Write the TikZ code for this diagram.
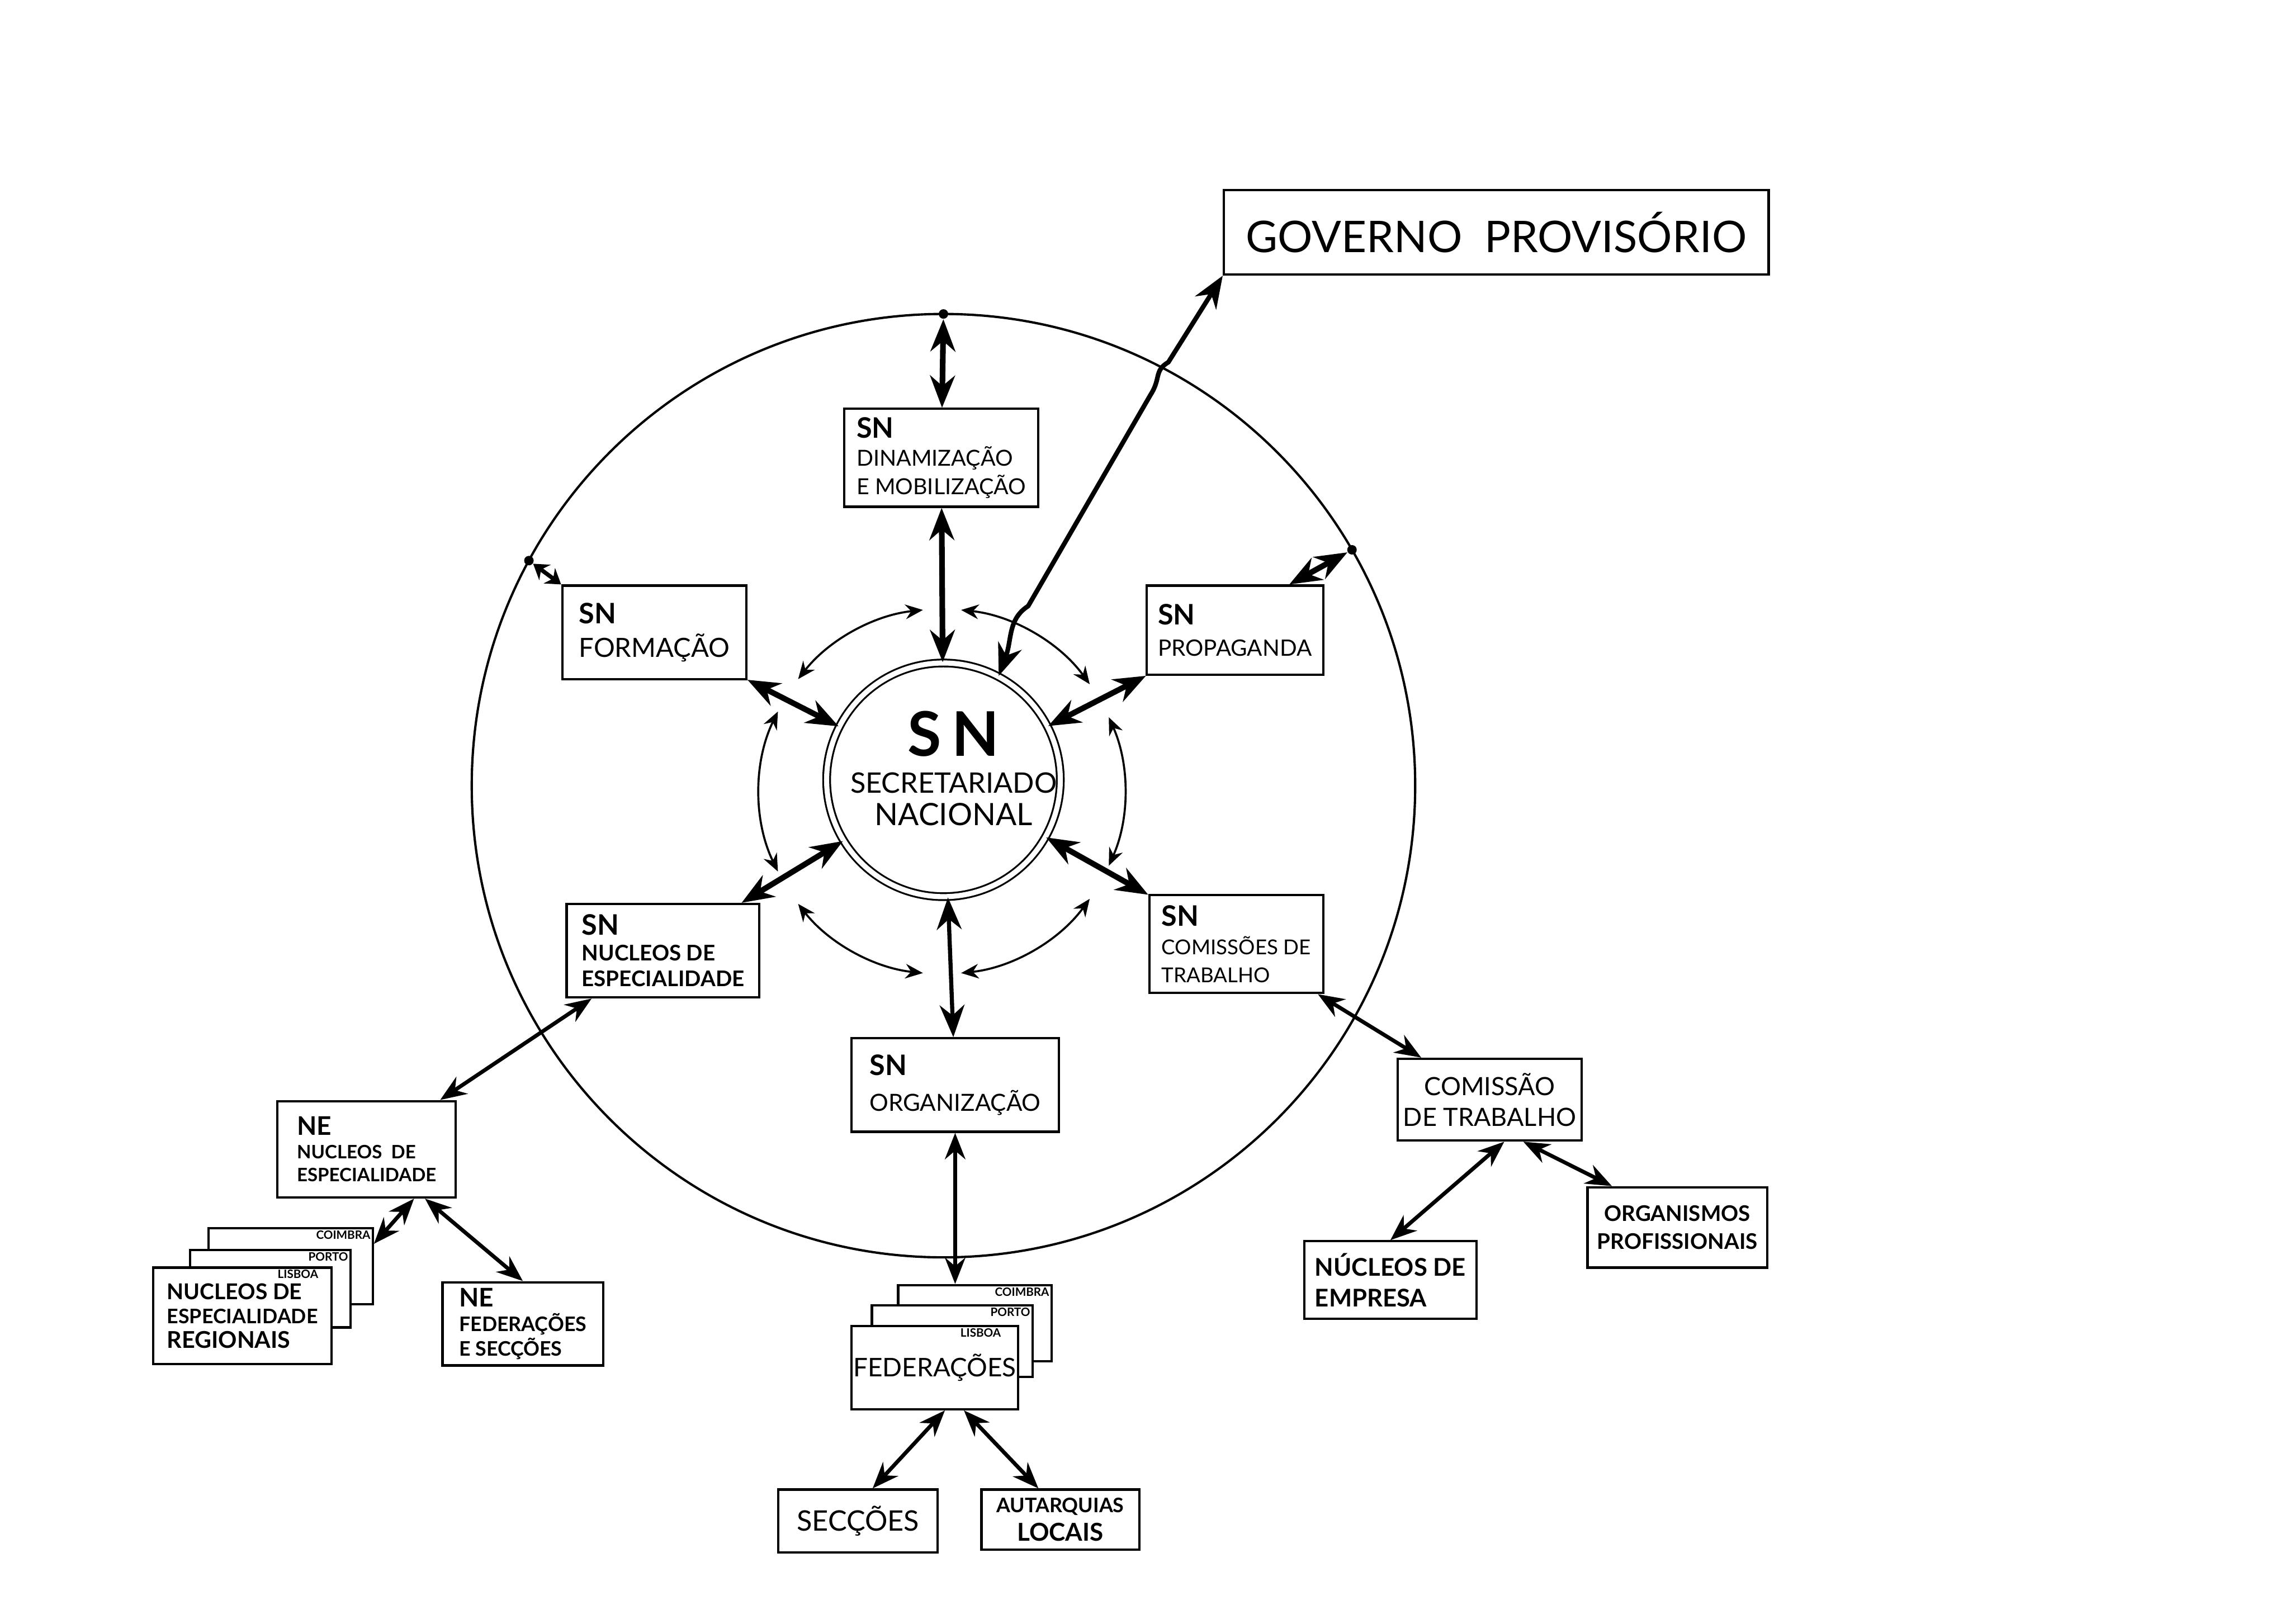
\documentclass[tikz,border=0pt]{standalone}
\usepackage{fontspec}
\setmainfont{Lato}
\usetikzlibrary{arrows.meta}

\newcommand{\txtsz}[2]{\fontsize{#1}{#2}\selectfont}
\newcommand{\snmark}{\txtsz{11}{13}\bfseries SN}

\begin{document}
\begin{tikzpicture}[
    x=0.2mm, y=0.2mm,
    every node/.style={font=\txtsz{8}{10}},
    box/.style={draw, line width=0.9pt, fill=white, inner sep=0pt, align=left},
    citytag/.style={font=\txtsz{4.5}{5}\bfseries, inner sep=1.2pt, anchor=north east},
    touch/.style={circle, fill, inner sep=0pt, minimum size=1.3mm},
    spoke/.style={line width=2.2pt, {Stealth[length=4.4mm,width=3.4mm]}-{Stealth[length=4.4mm,width=3.4mm]}},
    shortspoke/.style={line width=1.6pt, {Stealth[length=2mm,width=2.6mm]}-{Stealth[length=2mm,width=2.6mm]}},
    link/.style={line width=1.5pt, {Stealth[length=3.6mm,width=2.8mm]}-{Stealth[length=3.6mm,width=2.8mm]}},
    ringarrow/.style={line width=0.8pt, {Stealth[length=2.4mm,width=2mm]}-{Stealth[length=2.4mm,width=2mm]}}
]

\fill[white] (0,0) rectangle (1568,1112);
\useasboundingbox (0,0) rectangle (1568,1112);

% circles
\coordinate (ctr) at (646,574);
\coordinate (rc) at (645,570);
\draw[line width=0.9pt] (ctr) circle[radius=323];
\foreach \a/\b in {36/84, 96/142, 154/206, 218/264, 276/324, 336/384}
    \draw[ringarrow] ([shift={(\a:125)}]rc) arc[start angle=\a, end angle=\b, radius=125];

\node[circle, draw, double, double distance=0.7mm, line width=0.7pt, fill=white,
      minimum size=3.2cm, inner sep=0pt] (sn) at (646,578) {};
\node[align=center, inner sep=0pt, font=\txtsz{11}{12.5}] (sntext) at (653,586)
    {{\txtsz{24}{26}\bfseries S\,N}\\[2pt]SECRETARIADO\\{\txtsz{12}{12.5}NACIONAL}};

% top
\node[box, minimum width=7.46cm, minimum height=1.16cm, align=center, font=\txtsz{17}{20}] (gov) at (1024.5,953) {GOVERNO\ \ PROVISÓRIO};

% secretariados
\node[box, minimum width=2.66cm, minimum height=1.34cm, font=\txtsz{8.6}{11}] (dinam) at (644.5,798.5) {{\snmark}\\DINAMIZAÇÃO\\E MOBILIZAÇÃO};
\node[box, minimum width=2.52cm, minimum height=1.28cm, font=\txtsz{10.3}{13}] (form) at (448,679) {{\snmark}\\FORMAÇÃO};
\node[box, minimum width=2.42cm, minimum height=1.22cm, font=\txtsz{8.8}{12}] (prop) at (845.5,680.5) {{\snmark}\\PROPAGANDA};
\node[box, minimum width=2.64cm, minimum height=1.28cm, font=\txtsz{8.4}{10}\bfseries] (nuc) at (454,461) {{\snmark}\\NUCLEOS DE\\ESPECIALIDADE};
\node[box, minimum width=2.38cm, minimum height=1.34cm, font=\txtsz{8}{11}] (comsn) at (846.5,465.5) {{\snmark}\\COMISSÕES DE\\TRABALHO};
\node[box, minimum width=2.84cm, minimum height=1.28cm, font=\txtsz{9.2}{14}] (org) at (654,369) {{\snmark}\\ORGANIZAÇÃO};

% nucleos de especialidade
\node[box, minimum width=2.44cm, minimum height=1.32cm, font=\txtsz{7.2}{9}\bfseries] (nenuc) at (251,325) {{\txtsz{10}{12}NE}\\NUCLEOS\ \ DE\\ESPECIALIDADE};
\node[box, minimum width=2.25cm, minimum height=1.04cm] (regb) at (199,245) {};
\node[citytag] (tcoim1) at (regb.north east) {COIMBRA};
\node[box, minimum width=2.2cm, minimum height=1.06cm] (regm) at (185,229.5) {};
\node[citytag] (tport1) at (regm.north east) {PORTO};
\node[box, minimum width=2.44cm, minimum height=1.32cm, font=\txtsz{7.8}{9.5}\bfseries] (regf) at (166,211) {{\txtsz{8.5}{10}NUCLEOS DE}\\ESPECIALIDADE\\{\txtsz{9}{10}REGIONAIS}};
\node[citytag] (tlisb1) at ([xshift=-1.5mm]regf.north east) {LISBOA};
\node[box, minimum width=2.2cm, minimum height=1.14cm, font=\txtsz{7.8}{9.5}\bfseries] (nefed) at (358,205.5) {{\txtsz{10}{12}NE}\\FEDERAÇÕES\\E SECÇÕES};

% federacoes
\node[box, minimum width=2.1cm, minimum height=1.04cm] (fedb) at (667.5,206) {};
\node[citytag] (tcoim2) at (fedb.north east) {COIMBRA};
\node[box, minimum width=2.2cm, minimum height=0.98cm] (fedm) at (652,193.5) {};
\node[citytag] (tport2) at (fedm.north east) {PORTO};
\node[box, minimum width=2.28cm, minimum height=1.14cm, font=\txtsz{10}{12}] (fedf) at (640,175.5) {FEDERAÇÕES};
\node[citytag] (tlisb2) at ([xshift=-2mm]fedf.north east) {LISBOA};
\node[box, minimum width=2.18cm, minimum height=0.86cm, align=center, font=\txtsz{11}{13}] (secc) at (587.5,70.5) {SECÇÕES};
\node[box, minimum width=2.16cm, minimum height=0.82cm, align=center, font=\txtsz{7.8}{11}\bfseries] (autarq) at (726,71.5) {AUTARQUIAS\\{\txtsz{9.6}{11}LOCAIS}};

% comissoes de trabalho
\node[box, minimum width=2.52cm, minimum height=1.12cm, align=center, font=\txtsz{9.8}{12}] (comout) at (1020,359) {COMISSÃO\\DE TRABALHO};
\node[box, minimum width=2.36cm, minimum height=1.06cm, font=\txtsz{9.5}{12}\bfseries] (nempresa) at (952,235.5) {NÚCLEOS DE\\EMPRESA};
\node[box, minimum width=2.46cm, minimum height=1.1cm, align=center, font=\txtsz{8.4}{11}\bfseries] (organismos) at (1148.5,271.5) {ORGANISMOS\\PROFISSIONAIS};

% points on the outer circle
\node[touch] (ctop) at ([shift={(90:323)}]ctr) {};
\node[touch] (cform) at ([shift={(151.5:323)}]ctr) {};
\node[touch] (cprop) at ([shift={(30:323)}]ctr) {};

% connectors
\draw[spoke] (ctop) -- (dinam);
\draw[spoke] (dinam) -- (sn);
\draw[shortspoke] (cform) -- (form.north west);
\draw[spoke] (form) -- (sn);
\draw[spoke] (cprop) -- (prop.40);
\draw[spoke] (prop) -- (sn);
\draw[spoke] (nuc) -- (sn);
\draw[spoke] (comsn) -- (sn);
\draw[spoke, line width=1.6pt] (org) -- (sn);

\draw[link] (nuc) -- (nenuc);
\draw[link] (comsn) -- (comout);
\draw[link] (org.south) -- (org.south |- fedb.north);
\draw[link] ([xshift=1.4mm]fedf.south) -- ([xshift=2mm]secc.north);
\draw[link] ([xshift=4mm]fedf.south) -- ([xshift=-3mm]autarq.north);
\draw[link] ([xshift=6.5mm]nenuc.south) -- (regb.15);
\draw[link] ([xshift=8mm]nenuc.south) -- (nefed.north);
\draw[link] ([xshift=2mm]comout.south) -- (nempresa.north);
\draw[link] ([xshift=4.6mm]comout.south) -- ([xshift=3.5mm]organismos.north west);

\draw[line width=1.8pt, {Stealth[length=4.4mm,width=3.4mm]}-{Stealth[length=4.4mm,width=3.4mm]}]
    (sn.62) .. controls (693,674) and (690,688) .. (704,697) -- (788,842)
    .. controls (795,853) and (790,858) .. (800,864) -- (gov.south west);

\end{tikzpicture}
\end{document}
